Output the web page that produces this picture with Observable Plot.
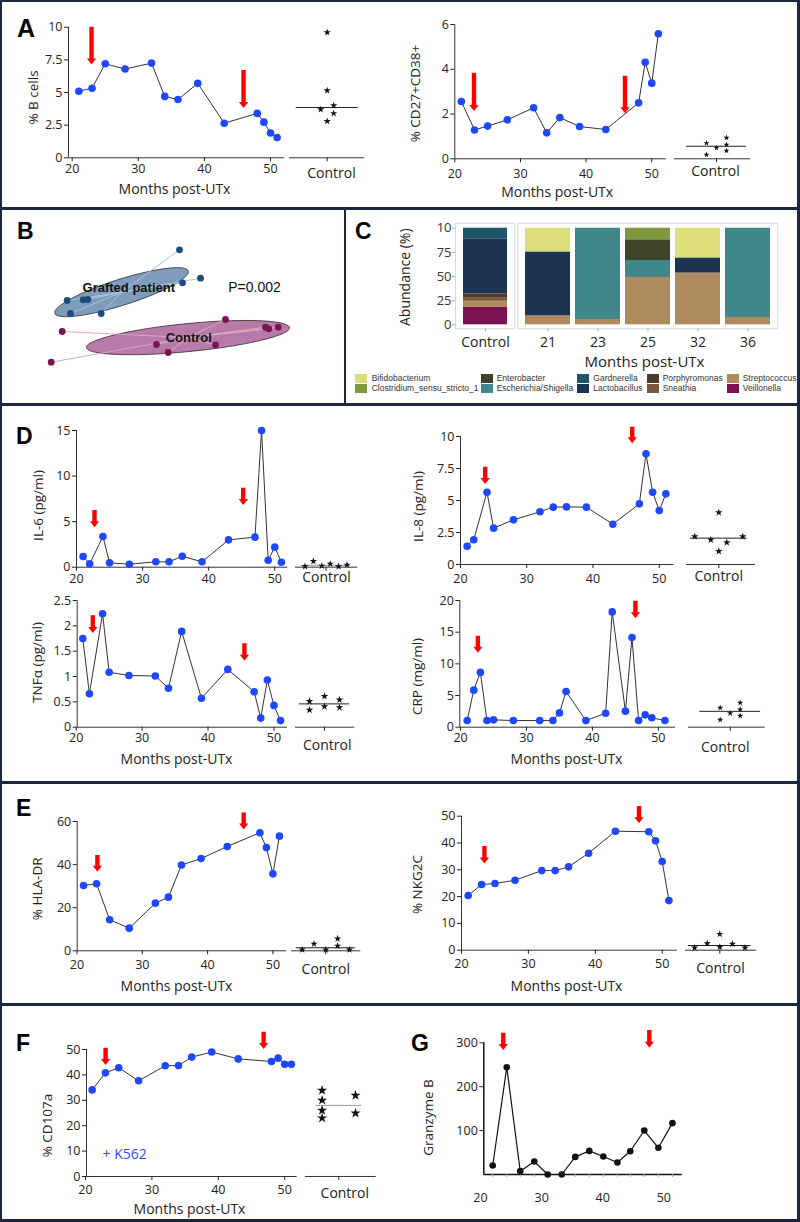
<!DOCTYPE html>
<html>
<head>
<meta charset="utf-8">
<script src="https://cdn.jsdelivr.net/npm/d3@7"></script>
<script src="https://cdn.jsdelivr.net/npm/@observablehq/plot@0.6"></script>
<style>
html,body{margin:0;padding:0;background:#fff;}
#fig{position:relative;width:800px;height:1222px;overflow:hidden;background:#fff;font-family:"Open Sans",sans-serif;}
.sep{position:absolute;background:#1b2740;}
.letter{position:absolute;font-family:"Liberation Sans",Arial,sans-serif;font-weight:bold;font-size:23px;line-height:1;color:#000;}
.lg{position:absolute;font-family:"Liberation Sans",Arial,sans-serif;font-size:8.5px;color:#333;line-height:9px;white-space:nowrap;}
.sw{position:absolute;width:11.5px;height:9px;}
</style>
</head>
<body>
<div id="fig"></div>
<script>
// ================= DATA =================
// Panel A
const monthsA = [21,23,25,28,32,34,36,39,43,48,49,50,51];
const pctBCells = [5.1,5.33,7.2,6.8,7.25,4.7,4.46,5.7,2.65,3.4,2.73,1.9,1.55];
const pctCD27CD38 = [2.56,1.29,1.46,1.74,2.28,1.16,1.84,1.44,1.31,2.5,4.31,3.38,5.59];
const ctrlBCells = [9.6,5.15,3.7,4.0,3.4,2.8];
const ctrlBCellsCol = [0,0,-1,1,1,0];
const ctrlCD27CD38 = [0.7,0.49,0.18,0.94,0.63,0.36];
const ctrlCD27CD38Col = [-1,0,-1,1,1,1];
const arrowsA = [23,46];

// Panel B (PCoA coordinates)
const graftedAxis1 = [0.09,0.30,0.12,-1.033,-0.873,-0.827,-1.0,-0.693];
const graftedAxis2 = [0.507,0.223,0.177,0.0,0.007,0.01,-0.13,-0.13];
const controlAxis1 = [0.55,0.95,0.983,1.077,-1.083,-0.14,0.45,-0.023,-1.193];
const controlAxis2 = [-0.19,-0.267,-0.283,-0.267,-0.31,-0.44,-0.443,-0.52,-0.617];
const ellipseSemiMajor = [0.70,1.02];
const ellipseSemiMinor = [0.13,0.14];
const ellipseAngleDeg = [17.6,5.6];
const pValueText = "P=0.002";

// Panel C
const taxa = ["Bifidobacterium","Clostridium_sensu_stricto_1","Enterobacter","Escherichia/Shigella","Gardnerella","Lactobacillus","Porphyromonas","Sneathia","Streptococcus","Veillonella"];
const taxaColors = ["#dedd7c","#7f9a3e","#3e4427","#3f878b","#1f5568","#1d3352","#4b392d","#79573b","#b08b5e","#7c114f"];
const samplesC = ["Control","21","23","25","32","36"];
const abControl = [0,0,0,0,11.4,56.6,3.8,3.8,6.2,18.2];
const ab21 = [24.8,0,0,0,0,66.2,0,0,9.0,0];
const ab23 = [0,0,0,94.5,0,0,0,0,5.5,0];
const ab25 = [0,12.1,21.3,17.6,0,0,0,0,49.0,0];
const ab32 = [31.0,0,0,0,0,15.6,0,0,53.4,0];
const ab36 = [0,0,0,92.4,0,0,0,0,7.6,0];

// Panel D
const monthsD = [21,22,24,25,28,32,34,36,39,43,47,48,49,50,51];
const il6 = [1.17,0.37,3.37,0.48,0.33,0.59,0.59,1.2,0.59,3.0,3.3,15.0,0.77,2.2,0.55];
const il8 = [1.43,1.93,5.65,2.84,3.49,4.12,4.48,4.5,4.48,3.15,4.74,8.65,5.65,4.22,5.52];
const tnfa = [1.75,0.66,2.24,1.085,1.02,1.01,0.77,1.89,0.57,1.14,0.70,0.18,0.93,0.43,0.13];
const monthsCRP = [21,22,23,24,25,28,32,34,35,36,39,42,43,45,46,47,48,49,51];
const crp = [1.05,5.85,8.65,1.05,1.16,1.05,1.05,1.05,2.26,5.63,1.05,2.2,18.2,2.53,14.16,1.05,1.95,1.48,1.05];
const ctrlIL6 = [0.08,0.66,0.15,0.37,0.08,0.26];
const ctrlIL6Col = [-2.5,-1.5,-0.5,0.5,1.5,2.5];
const ctrlIL8 = [2.19,1.93,4.06,1.04,1.72,2.19];
const ctrlIL8Col = [-3,-1,0,0,1,3];
const ctrlTNFa = [0.51,0.34,0.61,0.41,0.54,0.39];
const ctrlTNFaCol = [-1,-1,0,0,1,1];
const ctrlCRP = [3.06,1.17,2.2,3.85,2.8,1.8];
const ctrlCRPCol = [-1,-1,0,1,1,1];

// Panel E
const monthsE = [21,23,25,28,32,34,36,39,43,48,49,50,51];
const hlaDR = [30.3,31.1,14.4,10.5,22.1,24.9,39.8,42.8,48.4,54.8,47.9,35.7,53.2];
const nkg2c = [20.4,24.5,24.9,26.1,29.7,29.7,31.1,36.2,44.4,44.2,40.8,33.1,18.5];
const ctrlHLADR = [0.5,3.2,0.5,5.6,2.3,0.5];
const ctrlHLADRCol = [-2,-1,0,1,1,2];
const ctrlNKG2C = [0.9,2.5,6.0,1.2,2.3,0.9];
const ctrlNKG2CCol = [-2,-1,0,0,1,2];

// Panel F
const monthsF = [21,23,25,28,32,34,36,39,43,48,49,50,51];
const cd107a = [34.1,40.8,42.8,37.7,43.6,43.7,47.0,49.0,46.3,45.3,46.6,44.2,44.2];
const ctrlCD107a = [33.9,30.0,26.0,23.0,31.9,24.9];
const ctrlCD107aCol = [-1,-1,-1,-1,1,1];

// Panel G
const monthsG = [22.0,24.3,26.5,28.8,31.0,33.3,35.5,37.8,40.1,42.4,44.5,46.8,49.1,51.4];
const granzymeB = [20.5,244.4,7.6,29.6,0,0,40.1,53.8,41,27.3,53,100.2,60.8,117];

const monthTicks = [20,30,40,50];

// ================= DRAWING =================
const fig = document.getElementById("fig");
const AX = "#333";
const BLUE = "#1e48ff";
const RED = "#ff0000";
const TICK_FS = 12.5;
const YTITLE_FS = 13.5;
const baseStyle = {background:"transparent", overflow:"visible", fontFamily:"'Open Sans', sans-serif", fontSize:"12px", color:"#222"};

function put(el, l, t) {
  el.style.position = "absolute"; el.style.left = l + "px"; el.style.top = t + "px";
  fig.appendChild(el);
}
function plotIn(box, fr, opts) {
  const svg = Plot.plot(Object.assign({
    width: box.w, height: box.h,
    marginLeft: fr.x0 - box.l, marginRight: box.l + box.w - fr.x1,
    marginTop: fr.y0 - box.t, marginBottom: box.t + box.h - fr.y1,
    style: baseStyle
  }, opts));
  put(svg, box.l, box.t);
  return svg;
}
function arrowMark(xs, tops, tips) {
  const sw = 2.2, hw = 4.6, hh = 6;
  return (index, scales) => {
    const g = d3.create("svg:g");
    xs.forEach((xv, i) => {
      const x = scales.x(xv), y1 = scales.y(tops[i]), y2 = scales.y(tips[i]);
      const yb = y2 - hh;
      g.append("path").attr("fill", RED)
        .attr("d", `M${x-sw},${y1}H${x+sw}V${yb}H${x+hw}L${x},${y2}L${x-hw},${yb}H${x-sw}Z`);
    });
    return g.node();
  };
}
function yTitle(text, fr, pos, size) {
  return Plot.text([text], {frameAnchor: "left", textAnchor: "middle", lineAnchor: "middle", rotate: -90,
    dx: pos[0] - fr.x0, dy: pos[1] - (fr.y0 + fr.y1) / 2, fontSize: size, fill: "#222"});
}
function xTitle(text, fr, pos, size) {
  return Plot.text([text], {frameAnchor: "bottom", textAnchor: "middle", lineAnchor: "middle",
    dx: pos[0] - (fr.x0 + fr.x1) / 2, dy: pos[1] - fr.y1, fontSize: size, fill: "#222"});
}
function control(c, p) {
  const stars = c.values.map((v, i) => ({s: c.cols[i], v}));
  const fr = {x0: c.x0, x1: c.x1, y0: p.fr.y0, y1: p.fr.y1};
  const box = {l: c.x0 - 8, t: p.box.t, w: c.x1 - c.x0 + 16, h: p.box.h};
  plotIn(box, fr, {
    x: {domain: [(c.x0 - c.center) / c.sp, (c.x1 - c.center) / c.sp]},
    y: {domain: p.yDomain, axis: null},
    marks: [
      Plot.ruleY([p.yDomain[0]], {stroke: AX}),
      Plot.axisX({ticks: [0], tickFormat: () => "", tickSize: 4, label: null}),
      Plot.ruleY([d3.median(c.values)], {x1: -c.hw / c.sp, x2: c.hw / c.sp, stroke: c.medColor || "#222", strokeWidth: 1}),
      Plot.dot(stars, {x: "s", y: "v", symbol: "star", fill: "#111", r: c.r || 2.3}),
      xTitle("Control", fr, [c.lx, c.ly], 14)
    ]
  });
}
function series(p) {
  const data = p.months.map((m, i) => ({m, v: p.values[i]}));
  const fr = p.fr;
  const aw = p.axisW || 1;
  const marks = [
    Plot.ruleY([p.yDomain[0]], {stroke: p.axisColor || AX, strokeWidth: aw}),
    Plot.ruleX([p.xDomain[0]], {stroke: p.axisColor || AX, strokeWidth: aw}),
    Plot.axisY({ticks: p.yTicks, tickFormat: d => String(d), tickSize: 4, tickPadding: 2, label: null, fontSize: TICK_FS, fill: "#222"}),
    ...(p.xAxes || [Plot.axisX({ticks: monthTicks, tickFormat: d => String(d), tickSize: 4, tickPadding: p.xPad ?? 3, label: null, fontSize: TICK_FS, fill: "#222"})]),
    Plot.line(data, {x: "m", y: "v", stroke: p.lineColor || "#333", strokeWidth: p.lineW || 1}),
    Plot.dot(data, {x: "m", y: "v", r: p.r || 3.8, fill: p.dotColor || BLUE}),
    arrowMark(p.arrowX, p.arrowTop, p.arrowTip),
    yTitle(p.ylabel, fr, p.ylabelPos, YTITLE_FS)
  ];
  if (p.xlabelPos) marks.push(xTitle("Months post-UTx", fr, p.xlabelPos, 14));
  if (p.extra) marks.push(...p.extra);
  plotIn(p.box, fr, {x: {domain: p.xDomain}, y: {domain: p.yDomain}, marks});
  if (p.ctrl) control(p.ctrl, p);
}

// ----- Panel A -----
series({
  box: {l: 0, t: 0, w: 290, h: 205}, fr: {x0: 68, x1: 284, y0: 26.7, y1: 157.3},
  xDomain: [19.44, 52.12], yDomain: [0, 10], yTicks: [0, 2.5, 5, 7.5, 10],
  months: monthsA, values: pctBCells, xPad: 2,
  arrowX: arrowsA, arrowTop: [10, 6.68], arrowTip: [7.1, 3.77],
  ylabel: "% B cells", ylabelPos: [33, 97], xlabelPos: [174, 189],
  ctrl: {x0: 289, x1: 364, center: 326.7, sp: 6.5, hw: 31, lx: 331, ly: 173, values: ctrlBCells, cols: ctrlBCellsCol}
});
series({
  box: {l: 400, t: 0, w: 270, h: 205}, fr: {x0: 454.3, x1: 665.7, y0: 24, y1: 158.3},
  xDomain: [20, 52.2], yDomain: [0, 6], yTicks: [0, 2, 4, 6],
  months: monthsA, values: pctCD27CD38, xPad: 6,
  arrowX: arrowsA, arrowTop: [3.82, 3.69], arrowTip: [2.11, 2.01],
  ylabel: "% CD27+CD38+", ylabelPos: [415, 93], xlabelPos: [556.7, 191.7],
  ctrl: {x0: 674, x1: 750, center: 716, sp: 10, hw: 30, lx: 715, ly: 170.7, r: 1.9, values: ctrlCD27CD38, cols: ctrlCD27CD38Col}
});

// ----- Panel B -----
(function () {
  const gPts = graftedAxis1.map((x, i) => ({x, y: graftedAxis2[i]}));
  const cPts = controlAxis1.map((x, i) => ({x, y: controlAxis2[i]}));
  const gC = [d3.mean(graftedAxis1), d3.mean(graftedAxis2)];
  const cC = [d3.mean(controlAxis1), d3.mean(controlAxis2)];
  function ell(c, a, b, deg) {
    const th = deg * Math.PI / 180;
    return d3.range(0, 360, 4).map(t => {
      t = t * Math.PI / 180;
      return {x: c[0] + a * Math.cos(t) * Math.cos(th) - b * Math.sin(t) * Math.sin(th),
              y: c[1] + a * Math.cos(t) * Math.sin(th) + b * Math.sin(t) * Math.cos(th)};
    });
  }
  const gE = ell(gC, ellipseSemiMajor[0], ellipseSemiMinor[0], ellipseAngleDeg[0]);
  const cE = ell(cC, ellipseSemiMajor[1], ellipseSemiMinor[1], ellipseAngleDeg[1]);
  plotIn({l: 0, t: 209, w: 343, h: 195}, {x0: 0, x1: 343, y0: 209, y1: 404}, {
    x: {domain: [-1.7, 1.73], axis: null}, y: {domain: [-1.04, 0.91], axis: null},
    marks: [
      Plot.line(gE, {x: "x", y: "y", curve: "linear-closed", fill: "#7f9cba", stroke: "#2b2b2b", strokeWidth: 0.8}),
      Plot.line(cE, {x: "x", y: "y", curve: "linear-closed", fill: "#b87ba9", stroke: "#2b2b2b", strokeWidth: 0.8}),
      Plot.link(gPts, {x1: () => gC[0], y1: () => gC[1], x2: "x", y2: "y", stroke: "#a9c3de", strokeWidth: 1}),
      Plot.link(cPts, {x1: () => cC[0], y1: () => cC[1], x2: "x", y2: "y", stroke: "#dba6c6", strokeWidth: 1}),
      Plot.dot(gPts, {x: "x", y: "y", r: 3.4, fill: "#1c4c7c"}),
      Plot.dot(cPts, {x: "x", y: "y", r: 3.4, fill: "#7a1552"}),
      Plot.text(["Grafted patient"], {x: () => -0.417, y: () => 0.127, fontSize: 13, fontWeight: "bold", fontFamily: "Liberation Sans", fill: "#111"}),
      Plot.text(["Control"], {x: () => 0.183, y: () => -0.373, fontSize: 13, fontWeight: "bold", fontFamily: "Liberation Sans", fill: "#111"}),
      Plot.text([pValueText], {x: () => 0.84, y: () => 0.133, fontSize: 14, fontFamily: "Liberation Sans", fill: "#111"})
    ]
  });
})();

// ----- Panel C -----
(function () {
  const sampleAbund = [abControl, ab21, ab23, ab25, ab32, ab36];
  const rows = [];
  samplesC.forEach((s, si) => taxa.forEach((t, ti) => {
    if (sampleAbund[si][ti] > 0) rows.push({sample: s, taxon: t, v: sampleAbund[si][ti]});
  }));
  const order = taxa.slice().reverse();
  const color = {domain: taxa, range: taxaColors};
  const yDom = [-4.1, 105.2];
  const frL = {x0: 455, x1: 514.3, y0: 222.7, y1: 328.3};
  plotIn({l: 390, t: 212, w: 130, h: 165}, frL, {
    x: {domain: ["Control"], paddingInner: 0.1, paddingOuter: 0.143}, y: {domain: yDom}, color,
    marks: [
      Plot.frame({stroke: "#d6d6d6"}),
      Plot.barY(rows.filter(d => d.sample === "Control"), {x: "sample", y: "v", fill: "taxon", order}),
      Plot.axisY({ticks: [0, 25, 50, 75, 100], tickFormat: d => d === 100 ? "10" : String(d), tickSize: 3, tickPadding: 1, stroke: "#aaa", fill: "#333", fontSize: 13, label: null}),
      Plot.axisX({tickSize: 3, tickPadding: 5, stroke: "#aaa", fill: "#222", fontSize: 14, label: null}),
      yTitle("Abundance (%)", frL, [405, 276.7], 14)
    ]
  });
  const frR = {x0: 517.3, x1: 777.3, y0: 222.7, y1: 328.3};
  plotIn({l: 515, t: 212, w: 270, h: 165}, frR, {
    x: {domain: samplesC.slice(1), paddingInner: 0.1, paddingOuter: 0.15}, y: {domain: yDom, axis: null}, color,
    marks: [
      Plot.frame({stroke: "#d6d6d6"}),
      Plot.barY(rows.filter(d => d.sample !== "Control"), {x: "sample", y: "v", fill: "taxon", order}),
      Plot.axisX({tickSize: 3, tickPadding: 5, stroke: "#aaa", fill: "#222", fontSize: 14, label: null}),
      xTitle("Months post-UTx", frR, [644, 362], 15)
    ]
  });
  // legend (HTML, below the plot)
  const swL = [355, 481, 577, 647, 727], txL = [371.7, 496.7, 593.3, 662.7, 742.7], rowT = [374.3, 384.3];
  taxa.forEach((t, i) => {
    const col = Math.floor(i / 2), row = i % 2;
    const sw = document.createElement("div"); sw.className = "sw"; sw.style.background = taxaColors[i];
    sw.style.left = swL[col] + "px"; sw.style.top = rowT[row] + "px"; fig.appendChild(sw);
    const tx = document.createElement("div"); tx.className = "lg"; tx.textContent = t;
    tx.style.left = txL[col] + "px"; tx.style.top = rowT[row] + "px"; fig.appendChild(tx);
  });
})();

// ----- Panel D -----
series({
  box: {l: 0, t: 410, w: 292, h: 175}, fr: {x0: 76, x1: 287.3, y0: 430, y1: 566.7},
  xDomain: [20, 51.97], yDomain: [0, 15], yTicks: [0, 5, 10, 15],
  months: monthsD, values: il6, xPad: 3,
  arrowX: [22.8, 45.3], arrowTop: [6.22, 8.67], arrowTip: [4.32, 6.77],
  ylabel: "IL-6 (pg/ml)", ylabelPos: [38.3, 505],
  ctrl: {x0: 295, x1: 357.3, center: 325.5, sp: 8.4, hw: 25, lx: 326, ly: 577.5, medColor: "#999", values: ctrlIL6, cols: ctrlIL6Col}
});
series({
  box: {l: 400, t: 410, w: 280, h: 175}, fr: {x0: 460, x1: 673.3, y0: 436, y1: 564},
  xDomain: [20, 52.2], yDomain: [0, 10], yTicks: [0, 2.5, 5, 7.5, 10],
  months: monthsD, values: il8, xPad: 6,
  arrowX: [23.8, 46.0], arrowTop: [7.6, 10.73], arrowTip: [6.25, 9.43],
  ylabel: "IL-8 (pg/ml)", ylabelPos: [418.3, 506],
  ctrl: {x0: 686, x1: 755, center: 718.3, sp: 8, hw: 28.5, lx: 718.3, ly: 575.7, r: 2.4, values: ctrlIL8, cols: ctrlIL8Col}
});
series({
  box: {l: 0, t: 590, w: 292, h: 185}, fr: {x0: 76.7, x1: 287, y0: 600, y1: 726.7},
  xDomain: [20.15, 52.06], yDomain: [0, 2.5], yTicks: [0, 0.5, 1, 1.5, 2, 2.5],
  months: monthsD, values: tnfa, xPad: 1.5,
  arrowX: [22.6, 45.6], arrowTop: [2.2, 1.645], arrowTip: [1.85, 1.30],
  ylabel: "TNFα (pg/ml)", ylabelPos: [36.7, 662], xlabelPos: [176, 759.3],
  ctrl: {x0: 295, x1: 354.3, center: 324, sp: 15, hw: 25, lx: 326.7, ly: 745, r: 2.4, values: ctrlTNFa, cols: ctrlTNFaCol}
});
series({
  box: {l: 400, t: 590, w: 280, h: 185}, fr: {x0: 459.3, x1: 675, y0: 600, y1: 726.7},
  xDomain: [19.88, 52.6], yDomain: [0, 20], yTicks: [0, 5, 10, 15, 20],
  months: monthsCRP, values: crp, xPad: 1.5,
  arrowX: [22.7, 46.6], arrowTop: [14.36, 19.9], arrowTip: [11.68, 17.1],
  ylabel: "CRP (mg/ml)", ylabelPos: [416.7, 676], xlabelPos: [566, 759.3],
  ctrl: {x0: 688.3, x1: 765, center: 730, sp: 10, hw: 30.4, lx: 725, ly: 747.3, r: 2.0, values: ctrlCRP, cols: ctrlCRPCol}
});

// ----- Panel E -----
series({
  box: {l: 0, t: 795, w: 290, h: 200}, fr: {x0: 76.7, x1: 286, y0: 821, y1: 950.3},
  xDomain: [20.03, 52.08], yDomain: [0, 60], yTicks: [0, 20, 40, 60],
  months: monthsE, values: hlaDR, xPad: 5,
  arrowX: [23.2, 45.6], arrowTop: [44.2, 63.9], arrowTip: [36.5, 56.1],
  ylabel: "% HLA-DR", ylabelPos: [36.7, 888.3], xlabelPos: [176, 986],
  ctrl: {x0: 290.7, x1: 360, center: 325, sp: 11.8, hw: 29.5, lx: 325, ly: 969, values: ctrlHLADR, cols: ctrlHLADRCol}
});
series({
  box: {l: 400, t: 795, w: 282, h: 200}, fr: {x0: 461, x1: 676.7, y0: 815.7, y1: 949.7},
  xDomain: [20, 52.24], yDomain: [0, 50], yTicks: [0, 10, 20, 30, 40, 50],
  months: monthsE, values: nkg2c, xPad: 5,
  arrowX: [23.5, 46.6], arrowTop: [38.7, 53.6], arrowTip: [32.2, 47.2],
  ylabel: "% NKG2C", ylabelPos: [416.7, 884], xlabelPos: [566, 986],
  ctrl: {x0: 685, x1: 756, center: 719.3, sp: 12.6, hw: 31.4, lx: 720, ly: 968.3, values: ctrlNKG2C, cols: ctrlNKG2CCol}
});

// ----- Panel F -----
series({
  box: {l: 0, t: 1010, w: 300, h: 210}, fr: {x0: 86, x1: 296.7, y0: 1049, y1: 1176},
  xDomain: [20.15, 51.88], yDomain: [0, 50], yTicks: [0, 10, 20, 30, 40, 50],
  months: monthsF, values: cd107a, xPad: 5,
  arrowX: [23.1, 46.9], arrowTop: [50.5, 56.8], arrowTip: [43.7, 50.0],
  ylabel: "% CD107a", ylabelPos: [46.7, 1125], xlabelPos: [189, 1209],
  extra: [Plot.text(["+ K562"], {x: () => 25.9, y: () => 8.5, fill: "#2b4ff0", fontSize: 14})],
  ctrl: {x0: 305, x1: 375.7, center: 338.3, sp: 16.7, hw: 22.7, lx: 344.3, ly: 1193, r: 3.2, medColor: "#999", values: ctrlCD107a, cols: ctrlCD107aCol}
});

// ----- Panel G -----
series({
  box: {l: 400, t: 1010, w: 290, h: 210}, fr: {x0: 483.3, x1: 681.7, y0: 1042.3, y1: 1174},
  xDomain: [20.54, 53.0], yDomain: [0, 300], yTicks: [100, 200, 300],
  months: monthsG, values: granzymeB, axisW: 1.5, axisColor: "#111",
  dotColor: "#111", lineColor: "#111", lineW: 1.2, r: 3.3,
  xAxes: [
    Plot.axisX({ticks: monthsG, tickFormat: () => "", tickSize: 3, stroke: "#aaa", label: null}),
    Plot.axisX({ticks: monthTicks, tickFormat: d => String(d), tickSize: 0, tickPadding: 19, fontSize: TICK_FS, fill: "#222", label: null})
  ],
  arrowX: [23.8, 47.7], arrowTop: [321.9, 328], arrowTip: [282.5, 287.7],
  ylabel: "Granzyme B", ylabelPos: [428.3, 1117]
});

// ----- panel letters & separators -----
[["A", 17, 16, 25], ["B", 17, 220, 23], ["C", 355, 220, 23], ["D", 16, 425, 23],
 ["E", 16, 797, 23], ["F", 16, 1032, 23], ["G", 411, 1032, 23]].forEach(([t, l, tp, fs]) => {
  const d = document.createElement("div"); d.className = "letter"; d.textContent = t;
  d.style.left = l + "px"; d.style.top = tp + "px"; d.style.fontSize = fs + "px"; fig.appendChild(d);
});
[[0, 0, 800, 2], [0, 1219, 800, 3], [0, 0, 2, 1222], [797, 0, 3, 1222],
 [0, 207, 800, 2.5], [0, 403, 800, 2.5], [0, 781, 800, 3], [0, 1003, 800, 3], [343.5, 208, 2.5, 196]].forEach(([l, t, w, h]) => {
  const d = document.createElement("div"); d.className = "sep";
  d.style.left = l + "px"; d.style.top = t + "px"; d.style.width = w + "px"; d.style.height = h + "px"; fig.appendChild(d);
});
</script>
</body>
</html>
